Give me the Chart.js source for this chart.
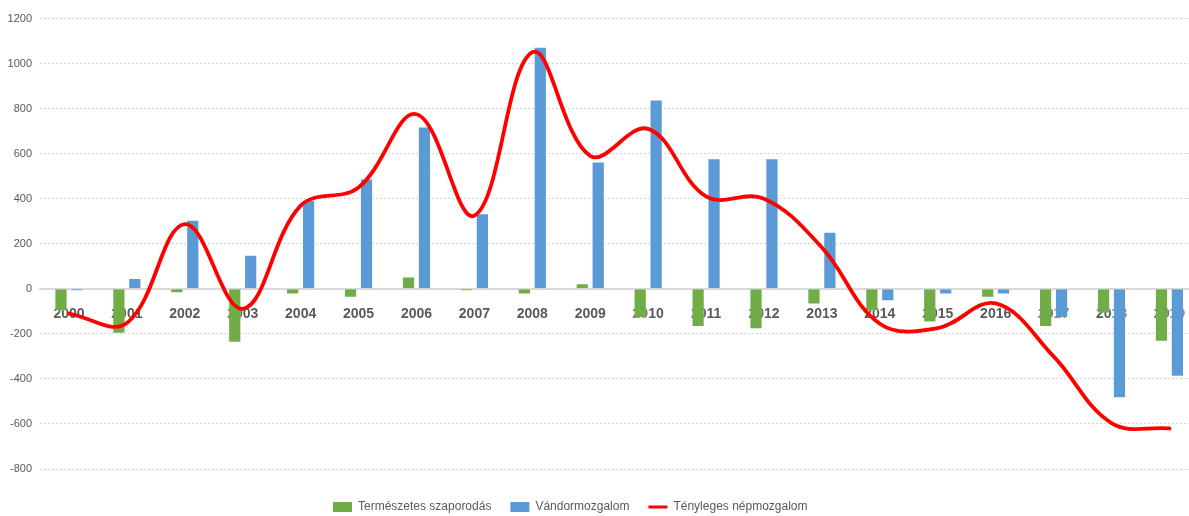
<!DOCTYPE html>
<html>
<head>
<meta charset="utf-8">
<script src="https://cdn.jsdelivr.net/npm/chart.js@4.4.1/dist/chart.umd.min.js"></script>
<style>
  html, body { margin: 0; padding: 0; background: #ffffff; overflow: hidden; }
  #wrap { width: 1189px; height: 516px; overflow: hidden; position: relative; }
  canvas { display: block; }
</style>
</head>
<body>
<div id="wrap"><canvas id="c" width="1202" height="516"></canvas></div>
<script>
// ---- data ----
const years = ['2000','2001','2002','2003','2004','2005','2006','2007','2008','2009',
               '2010','2011','2012','2013','2014','2015','2016','2017','2018','2019'];
const termeszetes = [-100, -200, -20, -240, -25, -40, 55, -10, -25, 25,
                     -130, -170, -180, -70, -100, -150, -40, -170, -110, -235];
const vandor = [-10, 48, 307, 151, 394, 490, 720, 335, 1075, 565,
                840, 580, 580, 253, -55, -25, -25, -130, -486, -391];
const tenyleges = [-110, -152, 287, -89, 369, 450, 775, 325, 1050, 590,
                   710, 410, 400, 183, -155, -175, -65, -300, -596, -620];
const seriesNames = ['Természetes szaporodás', 'Vándormozgalom', 'Tényleges népmozgalom'];
const yMin = -800, yMax = 1200, yStep = 200;

const FONT = "'Liberation Sans', Arial, sans-serif";
const GREY = '#595959';
const LEGEND_START_X = 333;
const LEGEND_CENTER_Y = 507;

// draw the line series after the axis labels (labels sit over bars, line over labels)
const lineOnTop = {
  id: 'lineOnTop',
  beforeDatasetDraw(chart, args) {
    if (args.index === 2) return false;
  },
  afterDraw(chart) {
    const meta = chart.getDatasetMeta(2);
    const ctx = chart.ctx;
    ctx.save();
    meta.controller.draw();
    ctx.restore();
  }
};

// position the legend row like the reference
const legendPlace = {
  id: 'legendPlace',
  afterLayout(chart) {
    const lg = chart.legend;
    if (!lg || !lg.lineWidths) return;
    const lab = lg.options.labels;
    const P = lab.padding;
    const start = (lg.left + P + lg.right - lg.lineWidths[0]) / 2;
    const shift = LEGEND_START_X - start;
    lg.left += shift;
    lg.right += shift;
    const itemH = Math.max(lab.font.size, lab.boxHeight);
    const newTop = LEGEND_CENTER_Y - P - itemH / 2;
    const dy = newTop - lg.top;
    lg.top += dy;
    lg.bottom += dy;
  }
};

new Chart(document.getElementById('c'), {
  data: {
    labels: years,
    datasets: [
      {
        type: 'bar',
        label: seriesNames[0],
        data: termeszetes,
        backgroundColor: '#70AD47',
        borderColor: 'rgba(255,255,255,0.35)',
        borderWidth: 1,
        barPercentage: 0.83,
        categoryPercentage: 0.55
      },
      {
        type: 'bar',
        label: seriesNames[1],
        data: vandor,
        backgroundColor: '#5B9BD5',
        borderColor: 'rgba(255,255,255,0.35)',
        borderWidth: 1,
        barPercentage: 0.83,
        categoryPercentage: 0.55
      },
      {
        type: 'line',
        label: seriesNames[2],
        data: tenyleges,
        borderColor: '#FF0000',
        backgroundColor: '#FF0000',
        borderWidth: 3.8,
        pointRadius: 0,
        pointHoverRadius: 0,
        tension: 0.38,
        fill: false,
        borderCapStyle: 'round',
        borderJoinStyle: 'round'
      }
    ]
  },
  options: {
    responsive: false,
    animation: false,
    devicePixelRatio: 1,
    layout: { padding: { top: 18.5, left: 0, right: 0, bottom: 6 } },
    scales: {
      x: {
        type: 'category',
        position: { y: 0 },
        offset: true,
        z: 1,
        grid: { display: false, drawTicks: false },
        border: { display: true, color: '#D9D9D9', width: 2 },
        ticks: {
          color: GREY,
          font: { family: FONT, size: 14, weight: 'bold' },
          padding: 17,
          maxRotation: 0,
          minRotation: 0,
          autoSkip: false
        },
        afterFit(scale) { scale.height = 0; }
      },
      y: {
        type: 'linear',
        position: 'left',
        min: yMin,
        max: yMax,
        grid: { color: '#D4D4D4', lineWidth: 1, drawTicks: false },
        border: { display: false, dash: [2, 2] },
        ticks: {
          stepSize: yStep,
          color: GREY,
          font: { family: FONT, size: 11 },
          padding: 8,
          callback: (v) => String(v)
        },
        afterFit(scale) { scale.width = 40; }
      }
    },
    plugins: {
      tooltip: { enabled: false },
      legend: {
        display: true,
        position: 'bottom',
        labels: {
          color: GREY,
          font: { family: FONT, size: 12 },
          padding: 19,
          usePointStyle: true,
          pointStyleWidth: 19,
          boxHeight: 10,
          generateLabels(chart) {
            const items = Chart.defaults.plugins.legend.labels.generateLabels(chart);
            items.forEach((it, i) => {
              if (i < 2) {
                it.pointStyle = 'rect';
                it.lineWidth = 0;
              } else {
                it.pointStyle = 'line';
                it.lineWidth = 3;
                it.strokeStyle = '#FF0000';
              }
              it.fontColor = GREY;
            });
            return items;
          }
        }
      }
    }
  },
  plugins: [lineOnTop, legendPlace]
});
</script>
</body>
</html>
